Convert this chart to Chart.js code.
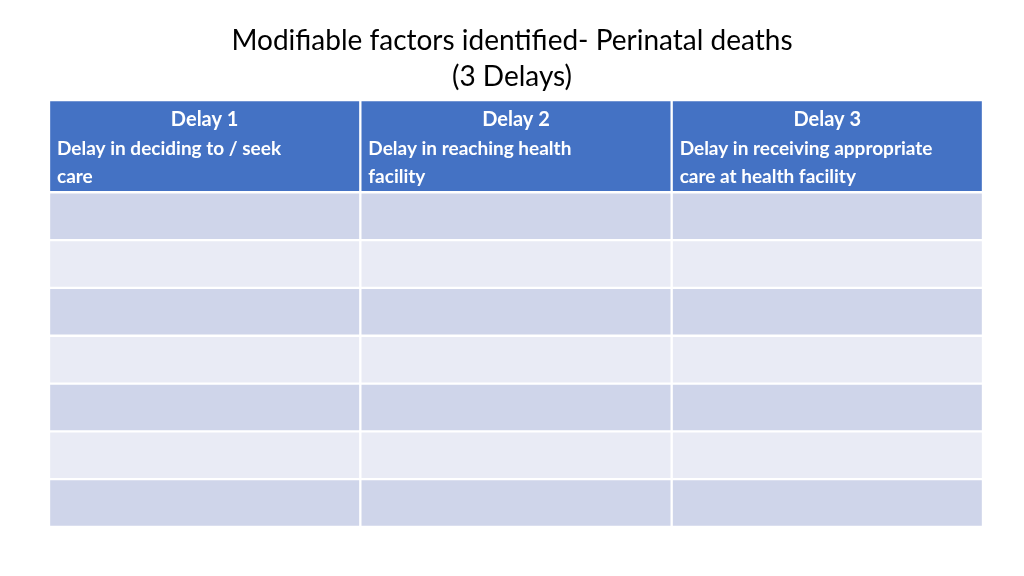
<!DOCTYPE html>
<html><head><meta charset="utf-8">
<script src="https://cdn.jsdelivr.net/npm/chart.js@4"></script>
<style>html,body{margin:0;background:#fff}#w{width:1024px;height:576px}</style>
</head><body><div id="w"><canvas id="c"></canvas></div>
<script>
const titleLines = ["Modifiable factors identified- Perinatal deaths", "(3 Delays)"];
const columns = ["Delay 1", "Delay 2", "Delay 3"];
const subtitles = [["Delay in deciding to / seek", "care"], ["Delay in reaching health", "facility"], ["Delay in receiving appropriate", "care at health facility"]];
const headerHeight = 1.93;
const bodyRows = 7;
const headerColor = "#4472C4";
const rowColors = ["#CFD5EA", "#E9EBF5"];

const datasets = [];
datasets.push({data: columns.map(() => [0, headerHeight]), backgroundColor: headerColor});
for (let r = 0; r < bodyRows; r++) {
  datasets.push({data: columns.map(() => [headerHeight + r, headerHeight + r + 1]), backgroundColor: rowColors[r % 2]});
}
datasets.forEach(d => Object.assign(d, {borderColor: "#fff", borderWidth: 1.5, borderSkipped: false, categoryPercentage: 1, barPercentage: 1, grouped: false}));

const textPlugin = {
  id: "txt",
  afterDatasetsDraw(chart) {
    const ctx = chart.ctx, xs = chart.scales.x, ys = chart.scales.y;
    ctx.save();
    ctx.fillStyle = "#000";
    ctx.font = "28px Lato, 'Open Sans', sans-serif";
    ctx.textAlign = "center"; ctx.textBaseline = "middle";
    ctx.fillText(titleLines[0], 512, 41);
    ctx.fillText(titleLines[1], 512, 77);
    const top = ys.getPixelForValue(0);
    columns.forEach((c, i) => {
      const cx = xs.getPixelForValue(i);
      const w = (xs.right - xs.left) / columns.length;
      const left = cx - w / 2;
      ctx.fillStyle = "#fff";
      ctx.textAlign = "center";
      ctx.font = "bold 20px Lato, 'Open Sans', sans-serif";
      ctx.fillText(c, cx, top + 20);
      ctx.textAlign = "left";
      ctx.font = "bold 19px Lato, 'Open Sans', sans-serif";
      subtitles[i].forEach((s, k) => ctx.fillText(s, left + 8, top + 49 + k * 28));
    });
    ctx.restore();
  }
};

new Chart(document.getElementById("c"), {
  type: "bar",
  data: {labels: columns, datasets},
  options: {
    responsive: true, maintainAspectRatio: false, animation: false,
    layout: {padding: {left: 49, right: 41, top: 100, bottom: 49}},
    plugins: {legend: {display: false}, tooltip: {enabled: false}},
    scales: {
      x: {display: false},
      y: {display: false, reverse: true, min: 0, max: headerHeight + bodyRows}
    }
  },
  plugins: [textPlugin]
});
</script></body></html>
